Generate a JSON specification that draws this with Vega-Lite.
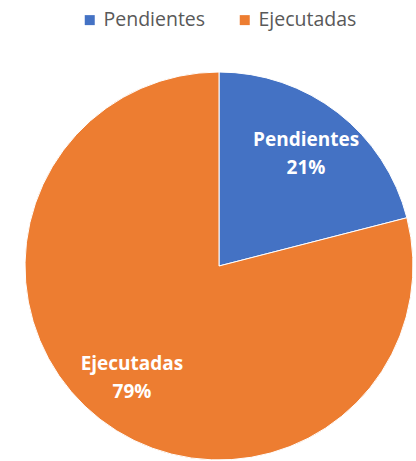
{
  "$schema": "https://vega.github.io/schema/vega-lite/v6.json",
  "width": 388,
  "height": 388,
  "autosize": {"type": "none"},
  "padding": {"left": 25, "top": 72, "right": 3, "bottom": 1},
  "background": "white",
  "data": {
    "values": [
      {"estado": "Pendientes", "valor": 21, "etiqueta": "Pendientes\n21%"},
      {"estado": "Ejecutadas", "valor": 79, "etiqueta": "Ejecutadas\n79%"}
    ]
  },
  "encoding": {
    "theta": {"field": "valor", "type": "quantitative", "stack": true},
    "order": {"field": "valor", "sort": "ascending"}
  },
  "layer": [
    {
      "mark": {"type": "arc", "stroke": "white", "strokeWidth": 1},
      "encoding": {
        "color": {
          "field": "estado",
          "type": "nominal",
          "scale": {"domain": ["Pendientes", "Ejecutadas"], "range": ["#4472C4", "#ED7D31"]},
          "legend": {
            "title": null,
            "orient": "none",
            "direction": "horizontal",
            "legendX": 55,
            "legendY": -62,
            "symbolType": "square",
            "symbolSize": 100,
            "symbolStrokeWidth": 0,
            "labelFont": "Open Sans",
            "labelFontSize": 19.5,
            "labelColor": "#595959",
            "labelOffset": 4,
            "columnPadding": 29
          }
        }
      }
    },
    {
      "mark": {
        "type": "text",
        "radius": 142,
        "lineBreak": "\n",
        "font": "Open Sans",
        "fontWeight": "bold",
        "fontSize": 19,
        "fill": "white",
        "lineHeight": 28,
        "baseline": "middle",
        "dy": -14
      },
      "encoding": {
        "text": {"field": "etiqueta"}
      }
    }
  ]
}
